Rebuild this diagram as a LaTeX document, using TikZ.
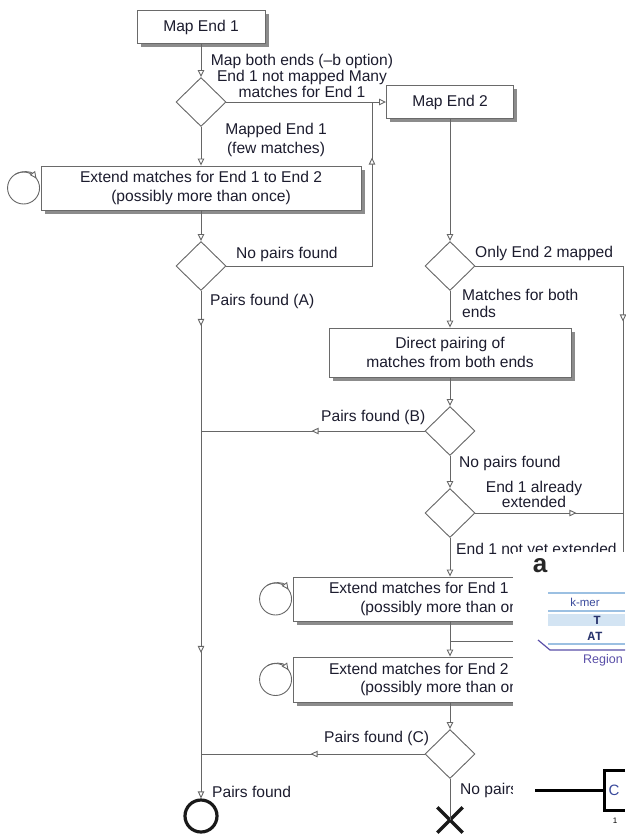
\documentclass[tikz,border=0pt]{standalone}
\usepackage{fontspec}
\setmainfont{Liberation Sans}
\newfontfamily\monob{Liberation Mono}
\usetikzlibrary{shapes.geometric, arrows.meta, decorations.markings, shadows}
\definecolor{ink}{HTML}{1C1C2E}
\definecolor{wirec}{HTML}{666666}
\definecolor{framec}{HTML}{6A6A6A}
\definecolor{kblue}{HTML}{9CC0E2}
\definecolor{kband}{HTML}{D3E4F3}
\definecolor{knavy}{HTML}{3A4A9C}
\definecolor{kpurple}{HTML}{5A4FA8}

\begin{document}
\begin{tikzpicture}[x=1pt, y=1pt,
  font=\fontsize{15.6}{18.5}\selectfont, text=ink,
  >={Triangle[color=wirec, fill=white, length=7pt, width=6.5pt]},
  wire/.style={draw=wirec, line width=0.9pt},
  flow/.style={wire, ->},
  tipat/.style={postaction={decorate, decoration={markings, mark=at position #1 with {\arrow{>}}}}},
  procbox/.style={draw=framec, fill=white, line width=0.9pt, inner sep=0pt, align=center,
    drop shadow={shadow xshift=3.5pt, shadow yshift=-3.5pt, fill=black!45, opacity=1}},
  decision/.style={diamond, draw=wirec, fill=white, line width=0.9pt,
    minimum width=50pt, minimum height=49pt, inner sep=0pt},
  lab/.style={inner sep=0pt, align=center},
  lableft/.style={inner sep=0pt, anchor=west, align=left},
  inset/.style={inner sep=0pt},
]
\useasboundingbox (0,0) rectangle (625,-838);

% process boxes and decisions
\node[procbox, minimum width=128pt, minimum height=33pt] (mapone) at (201,-27) {Map End 1};
\node[decision] (dA) at (201,-102) {};
\node[procbox, minimum width=127pt, minimum height=33pt] (maptwo) at (450,-102) {Map End 2};
\node[procbox, minimum width=320pt, minimum height=44pt] (extone) at (201,-188)
  {Extend matches for End 1 to End 2\\(possibly more than once)};
\node[decision] (dB) at (201,-266) {};
\node[decision] (dC) at (450,-266) {};
\node[procbox, minimum width=242pt, minimum height=49pt] (pairing) at (450,-352.5)
  {Direct pairing of\\matches from both ends};
\node[decision] (dD) at (450,-431) {};
\node[decision] (dE) at (450,-513) {};
\node[procbox, minimum width=314pt, minimum height=44pt] (extfirst) at (450,-599)
  {Extend matches for End 1 to End 2\\(possibly more than once)};
\node[procbox, minimum width=314pt, minimum height=45pt] (extsecond) at (450,-679.5)
  {Extend matches for End 2 to End 1\\(possibly more than once)};
\node[decision] (dF) at (450,-754) {};
\node[circle, draw=black!90, line width=3.2pt, minimum size=32pt, inner sep=0pt] (done) at (201,-816) {};
\node[minimum size=25pt, inner sep=0pt] (stop) at (450,-820) {};
\draw[black!90, line width=3.5pt] (stop.north west) -- (stop.south east)
  (stop.north east) -- (stop.south west);

% self loops
\foreach \b in {extone, extfirst, extsecond}{
  \draw[wire] ([xshift=-17pt]\b.west) circle[radius=16pt];
  \draw[flow] ([xshift=-17pt]\b.west) ++(120:16pt) arc[start angle=120, end angle=36, radius=16pt];
}

% connectors
\coordinate (joinA) at (372,-102);
\coordinate (rturn) at (623,-641);
\coordinate (joinC) at (450,-641);
\draw[flow] (mapone) -- (dA);
\draw[flow] (dA) -- (maptwo);
\draw[flow] (dA) -- (extone);
\draw[flow] (extone) -- (dB);
\draw[wire, tipat=254pt] (dB.east) -| (joinA);
\draw[flow] (maptwo) -- (dC);
\draw[wire, tipat=203pt] (dC.east) -| (rturn) -- (joinC);
\draw[flow] (dC) -- (pairing);
\draw[flow] (pairing) -- (dD);
\draw[wire, tipat=113pt] (dD.west) -- (dD.west -| dB.south);
\draw[flow] (dD) -- (dE);
\draw[wire, tipat=101pt] (dE.east) -- (dE.east -| rturn);
\draw[flow] (dE) -- (extfirst);
\draw[flow] (extfirst) -- (extsecond);
\draw[flow] (extsecond) -- (dF);
\draw[wire, tipat=114pt] (dF.west) -- (dF.west -| dB.south);
\draw[wire] (dF.south) -- (stop.center);
\draw[flow, tipat=35pt, tipat=362pt] (dB.south) -- (done.north);

% labels
\node[lab, font=\fontsize{15.6}{16}\selectfont] at (302,-76)
  {Map both ends (–b option)\\End 1 not mapped Many\\matches for End 1};
\node[lab, font=\fontsize{15.6}{19}\selectfont] at (276,-139.5) {Mapped End 1\\(few matches)};
\node[lableft] at (236,-254) {No pairs found};
\node[lableft] at (210,-301) {Pairs found (A)};
\node[lableft] at (475,-253) {Only End 2 mapped};
\node[lableft, font=\fontsize{15.6}{17}\selectfont] at (462,-303.5) {Matches for both\\ends};
\node[lableft] at (321,-417) {Pairs found (B)};
\node[lableft] at (459,-463) {No pairs found};
\node[lab, font=\fontsize{15.6}{15.5}\selectfont] at (534,-494.5) {End 1 already\\extended};
\node[lableft] at (456,-550) {End 1 not yet extended};
\node[lableft] at (324,-738) {Pairs found (C)};
\node[lableft] at (460,-790) {No pairs found};
\node[lableft] at (212,-792) {Pairs found};

% inset panel laid over the lower right corner
\fill[white] (513,-552) rectangle (625,-838);
\node[inset, font=\bfseries\fontsize{26}{26}\selectfont, text=black!85] at (540,-566) {a};
\fill[kband] (548,-613.5) rectangle (625,-626);
\draw[kblue, line width=1.2pt] (548,-593) -- (625,-593) (548,-611) -- (625,-611) (548,-644) -- (625,-644);
\node[inset, font=\fontsize{11.5}{11.5}\selectfont, text=knavy] at (585,-602) {k-mer};
\node[inset, font=\monob\bfseries\fontsize{12.5}{12.5}\selectfont, text=knavy!70!black] at (597,-620) {T};
\node[inset, font=\monob\bfseries\fontsize{12.5}{12.5}\selectfont, text=knavy!70!black] at (595,-636) {AT};
\draw[kpurple, line width=1.2pt] (538,-640) -- (550,-650) -- (625,-650);
\node[inset, font=\fontsize{12.5}{12.5}\selectfont, text=kpurple] at (603,-660) {Region};
\draw[black, line width=3pt] (535,-790) -- (604,-790);
\draw[black, line width=3pt, line join=miter] (625,-770) -- (604,-770) -- (604,-810) -- (625,-810);
\node[inset, font=\fontsize{15}{15}\selectfont, text=knavy] at (614,-790) {C};
\node[inset, font=\fontsize{8}{8}\selectfont, text=black] at (615,-821) {1};
\end{tikzpicture}
\end{document}
